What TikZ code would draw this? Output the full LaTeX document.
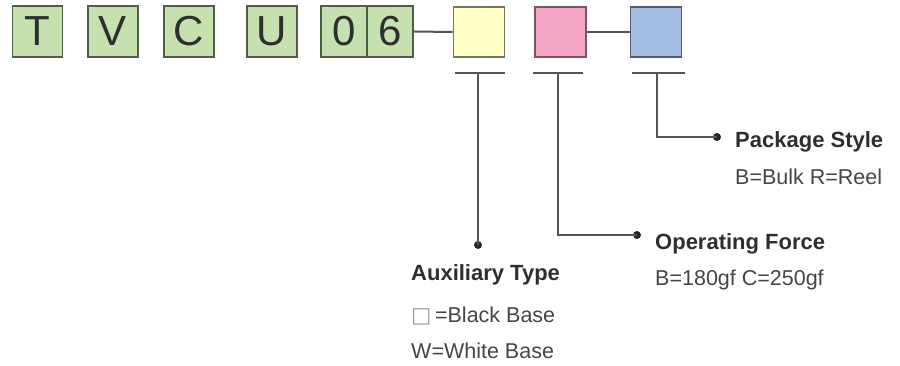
\documentclass[tikz,border=0pt]{standalone}
\usepackage{fontspec}
\setmainfont{Liberation Sans}
\newfontfamily\symfont{DejaVu Sans}
\definecolor{gfill}{HTML}{C6E0B0}
\definecolor{gdraw}{HTML}{4F5E47}
\definecolor{yfill}{HTML}{FFFFC6}
\definecolor{ydraw}{HTML}{77775A}
\definecolor{pfill}{HTML}{F2A5C5}
\definecolor{pdraw}{HTML}{7A5566}
\definecolor{bfill}{HTML}{A3BDE5}
\definecolor{bdraw}{HTML}{505A6E}
\definecolor{lcol}{HTML}{555555}
\definecolor{tcol}{HTML}{2E2E2E}
\definecolor{rcol}{HTML}{454545}
\begin{document}
\begin{tikzpicture}[x=1pt,y=-1pt,
  letterbox/.style={draw=gdraw,fill=gfill,line width=1.8pt,minimum width=50pt,minimum height=51pt,inner sep=0pt,font=\fontsize{42}{42}\selectfont,text=tcol},
  halfbox/.style={letterbox,minimum width=46pt},
  codebox/.style={line width=1.8pt,minimum width=51pt,minimum height=50pt,inner sep=0pt},
  conn/.style={draw=lcol,line width=2pt},
  dotmark/.style={circle,fill=black!85,inner sep=0pt,minimum size=8pt},
  title/.style={anchor=base west,inner sep=0pt,font=\fontsize{22}{22}\selectfont\bfseries,text=tcol},
  desc/.style={anchor=base west,inner sep=0pt,font=\fontsize{21.5}{21.5}\selectfont,text=rcol}]
\useasboundingbox (0,0) rectangle (900,366);
% letter boxes
\node[letterbox] (t) at (37.5,31.5) {T};
\node[letterbox] (v) at (113,31.5) {V};
\node[letterbox] (c) at (189,31.5) {C};
\node[letterbox] (u) at (272,31.5) {U};
\node[halfbox] (z) at (344,31.5) {0};
\node[halfbox] (s) at (390,31.5) {6};
% code boxes
\node[codebox,draw=ydraw,fill=yfill] (yb) at (479,32) {};
\node[codebox,draw=pdraw,fill=pfill] (pb) at (560.5,32) {};
\node[codebox,draw=bdraw,fill=bfill] (bb) at (656,32) {};
\draw[conn] (s.east) -- (yb.west);
\draw[conn] (pb.east) -- (bb.west);
% bars
\coordinate (ybl) at (455,73); \coordinate (ybr) at (505,73);
\coordinate (pbl) at (533,73); \coordinate (pbr) at (583,73);
\coordinate (bbl) at (632,73); \coordinate (bbr) at (685,73);
\draw[conn] (ybl) -- (ybr);
\draw[conn] (pbl) -- (pbr);
\draw[conn] (bbl) -- (bbr);
\coordinate (yt) at (478,73);
\coordinate (pt) at (558,73);
\coordinate (bt) at (657,73);
% dots
\node[dotmark] (yd) at (478,245) {};
\node[dotmark] (pd) at (637,235) {};
\node[dotmark] (bd) at (717,137) {};
\draw[conn] (yt) -- (yd.center);
\draw[conn] (pt) |- (pd.center);
\draw[conn] (bt) |- (bd.center);
% texts
\node[title] (pst) at (735,148) {Package Style};
\node[desc] (psd) at (735,185) {B=Bulk R=Reel};
\node[title] (oft) at (655,250) {Operating Force};
\node[desc] (ofd) at (655,286) {B=180gf C=250gf};
\node[title] (att) at (411,280) {Auxiliary Type};
\node[desc] (ad1) at (411,322) {{\symfont\color{black!40}□}\,=Black Base};
\node[desc] (ad2) at (411,358) {W=White Base};
\end{tikzpicture}
\end{document}
